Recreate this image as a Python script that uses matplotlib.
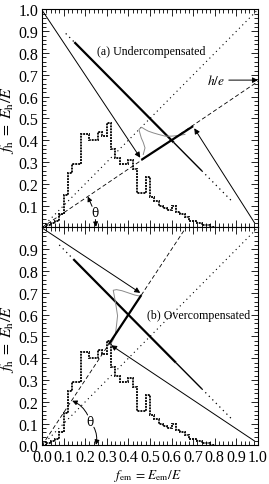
import numpy as np
import matplotlib
matplotlib.use("Agg")
import matplotlib.pyplot as plt
from matplotlib.ticker import MultipleLocator, FixedLocator
from matplotlib.patches import FancyArrowPatch

plt.rcParams.update({
    "font.family": "Liberation Serif",
    "mathtext.fontset": "stix",
    "axes.linewidth": 0.8,
})

# histogram of f_em (same in both panels), bin edges every 0.02
hist_edges = [0.00, 0.02, 0.04, 0.06, 0.08, 0.10, 0.12, 0.14, 0.16, 0.18,
              0.20, 0.22, 0.24, 0.26, 0.28, 0.30, 0.32, 0.34, 0.36, 0.38,
              0.40, 0.42, 0.44, 0.46, 0.48, 0.50, 0.52, 0.54, 0.56, 0.58,
              0.60, 0.62, 0.64, 0.66, 0.68, 0.70, 0.72, 0.74, 0.76, 0.78, 0.80]
hist_vals = [0.00, 0.01, 0.02, 0.03, 0.06, 0.15, 0.25, 0.29, 0.29, 0.43,
             0.43, 0.40, 0.40, 0.44, 0.42, 0.48, 0.36, 0.32, 0.29, 0.29,
             0.31, 0.27, 0.16, 0.16, 0.23, 0.14, 0.12, 0.10, 0.09, 0.08,
             0.10, 0.07, 0.06, 0.05, 0.03, 0.03, 0.02, 0.01, 0.01, 0.00]

# panel (a): undercompensated
he_a = 0.67
seg_a = [(0.46, 0.31), (0.70, 0.465)]          # thick segment on h/e line
arrow_a_left = [(0.005, 0.99), (0.455, 0.32)]
arrow_a_right = [(0.985, 0.02), (0.705, 0.455)]
diag_a = [0.11, 0.15, 0.61, 0.74, 0.88]          # f_em breaks on f_h = 1 - f_em
gray_a_x = [0.469, 0.477, 0.469, 0.460, 0.453, 0.449, 0.461, 0.477, 0.492,
            0.515, 0.539, 0.570, 0.600, 0.631, 0.662]
gray_a_y = [0.335, 0.365, 0.390, 0.410, 0.434, 0.450, 0.460, 0.450, 0.442,
            0.434, 0.427, 0.419, 0.419, 0.422, 0.427]

# panel (b): overcompensated
he_b = 1.5
seg_b = [(0.31, 0.465), (0.46, 0.69)]
arrow_b_left = [(0.005, 0.995), (0.455, 0.70)]
arrow_b_right = [(0.985, 0.02), (0.32, 0.46)]
diag_b = [0.08, 0.145, 0.62, 0.74, 0.88]
gray_b_x = [0.455, 0.430, 0.400, 0.370, 0.345, 0.330, 0.336, 0.343, 0.350,
            0.345, 0.340, 0.330, 0.318]
gray_b_y = [0.685, 0.690, 0.700, 0.710, 0.715, 0.712, 0.680, 0.640, 0.595,
            0.550, 0.510, 0.485, 0.465]

TXT = 8.6


def arrow(ax, p0, p1, lw=0.7):
    ax.add_patch(FancyArrowPatch(p0, p1, arrowstyle="-|>", mutation_scale=8,
                                 lw=lw, color="black", shrinkA=0, shrinkB=0))


def draw_panel(ax, he, seg, al, ar, diag, gx, gy, theta_xy, theta_ends, rads):
    ax.set_xlim(0, 1)
    ax.set_ylim(0, 1)
    # diagonal y = x
    ax.plot([0, 1], [0, 1], color="black", lw=0.8, ls=(0, (1, 3.2)))
    # h/e line
    xe = min(1.0, 1.0 / he)
    ax.plot([0, xe], [0, he * xe], color="black", lw=0.6, ls=(0, (5, 3)))
    # f_h = 1 - f_em line, varying density
    d = np.array(diag)
    ax.plot(d[0:2], 1 - d[0:2], color="black", lw=0.9, ls=(0, (1, 3)))
    ax.plot(d[1:3], 1 - d[1:3], color="black", lw=1.6, solid_capstyle="butt")
    ax.plot(d[2:4], 1 - d[2:4], color="black", lw=1.0, solid_capstyle="butt")
    ax.plot(d[3:5], 1 - d[3:5], color="black", lw=0.9, ls=(0, (1, 3)))
    # histogram
    ax.stairs(hist_vals, hist_edges, color="#111111", lw=1.4, ls=(0, (1, 0.5)))
    # gray profile
    ax.plot(gx, gy, color="#8a8a8a", lw=0.7)
    # thick segment and projection arrows
    ax.plot([seg[0][0], seg[1][0]], [seg[0][1], seg[1][1]], color="black",
            lw=1.6, solid_capstyle="butt")
    arrow(ax, al[0], al[1])
    arrow(ax, ar[0], ar[1])
    # theta
    ax.text(theta_xy[0], theta_xy[1], "θ", fontsize=TXT, ha="center",
            va="center", family="DejaVu Serif")
    for end, rad in zip(theta_ends, rads):
        ax.add_patch(FancyArrowPatch(theta_xy, end, arrowstyle="-|>",
                                     mutation_scale=7, lw=0.7, color="black",
                                     shrinkA=5, shrinkB=0,
                                     connectionstyle=f"arc3,rad={rad}"))
    ax.xaxis.set_major_locator(MultipleLocator(0.1))
    ax.xaxis.set_minor_locator(MultipleLocator(0.02))
    ax.yaxis.set_minor_locator(MultipleLocator(0.02))
    ax.tick_params(which="both", direction="in", top=True, right=True,
                   labelsize=11.5, width=0.6)
    ax.tick_params(which="major", length=5, pad=2.5)
    ax.tick_params(which="minor", length=2.8)


fig = plt.figure(figsize=(2.69, 4.85), dpi=100)
ax1 = fig.add_axes([0.156, 0.5289, 0.803, 0.4495])
ax2 = fig.add_axes([0.156, 0.0794, 0.803, 0.4495])

draw_panel(ax1, he_a, seg_a, arrow_a_left, arrow_a_right, diag_a,
           gray_a_x, gray_a_y, (0.245, 0.068),
           [(0.212, 0.142), (0.25, 0.003)], [0.0, 0.0])
draw_panel(ax2, he_b, seg_b, arrow_b_left, arrow_b_right, diag_b,
           gray_b_x, gray_b_y, (0.222, 0.11),
           [(0.14, 0.205), (0.25, 0.003)], [0.25, -0.25])

ax1.yaxis.set_major_locator(FixedLocator([0.1, 0.2, 0.3, 0.4, 0.5, 0.6, 0.7, 0.8, 0.9, 1.0]))
ax1.set_yticklabels(["0.1", "0.2", "0.3", "0.4", "0.5", "0.6", "0.7", "0.8", "0.9", "1.0"])
ax1.set_xticklabels([])
ax2.yaxis.set_major_locator(FixedLocator([0.0, 0.1, 0.2, 0.3, 0.4, 0.5, 0.6, 0.7, 0.8, 0.9]))
ax2.set_yticklabels(["0.0", "0.1", "0.2", "0.3", "0.4", "0.5", "0.6", "0.7", "0.8", "0.9"])
ax2.xaxis.set_major_locator(FixedLocator(np.arange(0, 1.01, 0.1)))
ax2.set_xticklabels(["0.0", "0.1", "0.2", "0.3", "0.4", "0.5", "0.6", "0.7", "0.8", "0.9", "1.0"])

ax1.text(0.253, 0.81, "(a) Undercompensated", fontsize=TXT, va="center")
ax2.text(0.485, 0.60, "(b) Overcompensated", fontsize=TXT, va="center")

# h/e label
ax1.text(0.765, 0.676, "$h/e$", fontsize=TXT + 1, va="center")
arrow(ax1, (0.865, 0.676), (1.0, 0.676))

ylab = r"$f_{\mathrm{h}}\;=\;E_{\mathrm{h}}/E$"
fig.text(7.5 / 269, 1 - 120 / 485, ylab, rotation=90, ha="center", va="center", fontsize=11.5)
fig.text(7.5 / 269, 1 - 339 / 485, ylab, rotation=90, ha="center", va="center", fontsize=11.5)
fig.text(148 / 269, 1 - 476 / 485, r"$f_{\mathrm{em}}\,=\,E_{\mathrm{em}}/E$",
         ha="center", va="center", fontsize=9.5)

fig.savefig("out.png", dpi=100)
